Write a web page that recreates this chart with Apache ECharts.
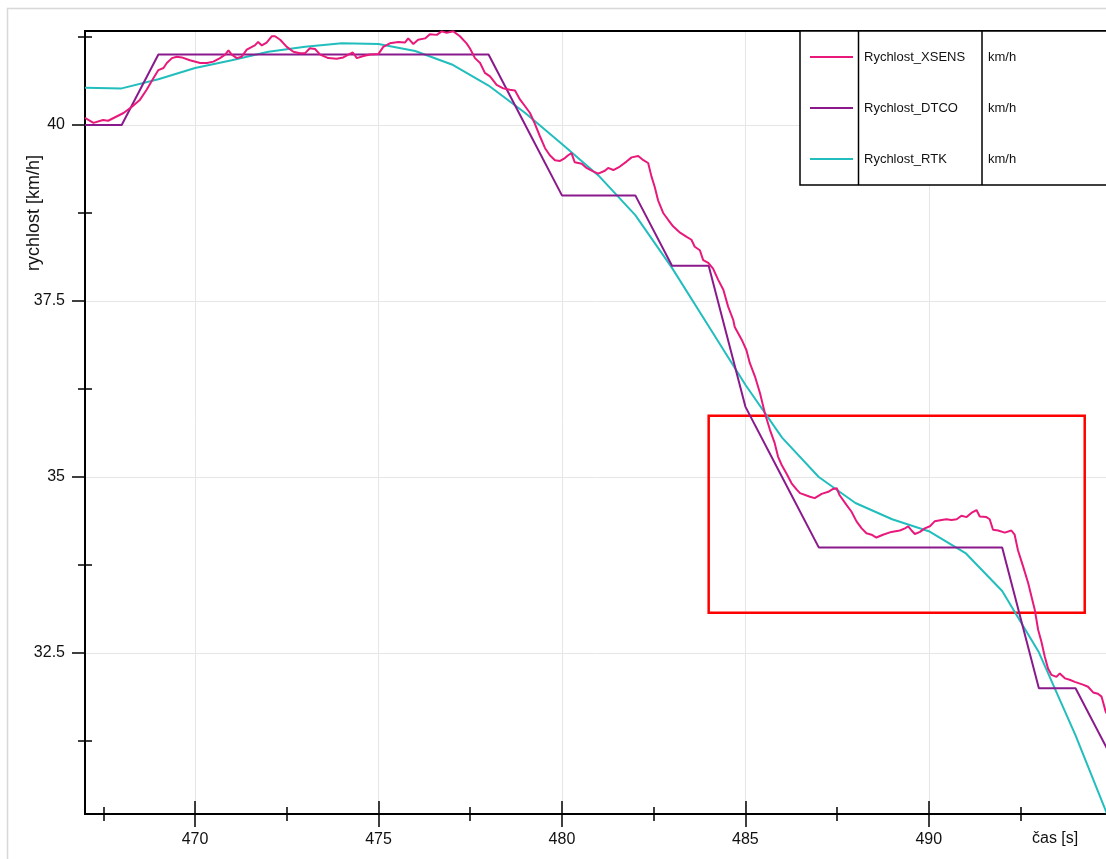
<!DOCTYPE html>
<html><head><meta charset="utf-8">
<script src="https://cdn.jsdelivr.net/npm/echarts@6/dist/echarts.min.js"></script>
<style>html,body{margin:0;padding:0;background:#fff}#c{width:1106px;height:859px}</style>
</head><body><div id="c"></div><script>
// ---- data ----
const xMajorTicks = [470, 475, 480, 485, 490];
const xMinorTicks = [467.5, 472.5, 477.5, 482.5, 487.5, 492.5];
const yMajorTicks = [32.5, 35, 37.5, 40];
const yMinorTicks = [31.25, 33.75, 36.25, 38.75, 41.25];
const xRange = [467.0, 494.83];
const yRange = [30.213, 41.335];

const seriesNames = ['Rychlost_XSENS', 'Rychlost_DTCO', 'Rychlost_RTK'];
const seriesUnits = ['km/h', 'km/h', 'km/h'];

const xsensT = [467.00,467.23,467.49,467.63,467.82,468.05,468.28,468.50,468.68,468.86,469.00,469.14,469.23,469.37,469.50,469.64,469.86,470.14,470.32,470.50,470.68,470.82,470.91,471.00,471.14,471.27,471.41,471.55,471.63,471.72,471.82,471.95,472.09,472.18,472.32,472.50,472.68,472.86,473.00,473.13,473.27,473.41,473.63,473.86,474.04,474.18,474.30,474.41,474.59,474.77,475.00,475.13,475.31,475.54,475.72,475.81,475.95,476.08,476.27,476.40,476.59,476.72,476.86,477.04,477.22,477.40,477.49,477.63,477.77,477.90,478.04,478.22,478.40,478.58,478.72,478.86,478.99,479.13,479.26,479.40,479.54,479.67,479.81,479.95,480.08,480.17,480.26,480.35,480.54,480.67,480.85,480.99,481.17,481.26,481.40,481.58,481.76,481.90,482.08,482.22,482.35,482.44,482.53,482.62,482.76,482.90,483.03,483.22,483.40,483.53,483.62,483.76,483.85,483.99,484.12,484.26,484.40,484.53,484.67,484.71,484.90,485.03,485.12,485.26,485.40,485.53,485.67,485.80,485.89,485.99,486.12,486.26,486.40,486.49,486.76,486.89,487.08,487.26,487.39,487.49,487.57,487.76,487.89,488.03,488.17,488.30,488.44,488.57,488.75,488.98,489.21,489.35,489.44,489.53,489.62,489.76,489.89,490.03,490.16,490.35,490.48,490.62,490.76,490.89,491.03,491.16,491.30,491.39,491.57,491.66,491.75,491.89,492.07,492.25,492.34,492.43,492.57,492.71,492.80,492.89,492.98,493.07,493.16,493.25,493.34,493.48,493.57,493.71,493.84,493.98,494.20,494.34,494.48,494.61,494.71,494.82,495.00];
const xsensV = [40.10,40.03,40.07,40.06,40.11,40.17,40.26,40.36,40.50,40.66,40.78,40.81,40.88,40.95,40.97,40.96,40.92,40.88,40.88,40.90,40.95,41.00,41.06,41.00,40.95,40.97,41.07,41.11,41.13,41.18,41.13,41.17,41.26,41.26,41.21,41.11,41.04,41.02,41.02,41.09,41.08,41.00,40.95,40.94,40.96,41.00,41.03,40.95,40.98,41.00,41.01,41.11,41.16,41.18,41.17,41.23,41.15,41.21,41.23,41.29,41.28,41.33,41.31,41.33,41.26,41.16,41.09,40.95,40.88,40.74,40.69,40.57,40.52,40.50,40.49,40.36,40.27,40.17,40.02,39.84,39.67,39.57,39.50,39.49,39.53,39.57,39.60,39.47,39.45,39.39,39.34,39.31,39.35,39.39,39.36,39.41,39.48,39.54,39.56,39.50,39.46,39.27,39.12,38.93,38.75,38.65,38.56,38.47,38.41,38.37,38.27,38.22,38.08,38.04,37.96,37.80,37.66,37.42,37.23,37.13,36.95,36.80,36.62,36.43,36.19,35.91,35.67,35.48,35.29,35.17,35.05,34.91,34.82,34.77,34.72,34.70,34.76,34.79,34.83,34.84,34.74,34.60,34.51,34.37,34.27,34.20,34.18,34.14,34.18,34.22,34.24,34.27,34.30,34.24,34.19,34.22,34.27,34.30,34.37,34.39,34.40,34.39,34.40,34.45,34.43,34.49,34.53,34.44,34.43,34.40,34.25,34.24,34.21,34.24,34.18,33.96,33.73,33.49,33.30,33.11,32.83,32.66,32.45,32.28,32.19,32.16,32.21,32.14,32.12,32.09,32.05,32.02,31.94,31.92,31.88,31.67,31.50];

const dtcoT = [467,468,469,470,471,472,473,474,475,476,477,478,479,480,481,482,483,484,485,486,487,488,489,490,491,492,493,494,495];
const dtcoV = [40,40,41,41,41,41,41,41,41,41,41,41,40,39,39,39,38,38,36,35,34,34,34,34,34,34,32,32,31];

const rtkT = [467,468,469,470,471,472,473,474,475,476,477,478,479,480,481,482,483,484,485,486,487,488,489,490,491,492,493,494,495];
const rtkV = [40.53,40.52,40.65,40.81,40.92,41.04,41.11,41.16,41.15,41.05,40.86,40.56,40.17,39.73,39.28,38.72,37.97,37.14,36.31,35.56,35.00,34.63,34.40,34.23,33.92,33.38,32.51,31.33,30.03];

const highlightBox = [[484.0, 35.87], [494.25, 33.07]];

const colors = ['#e8197b', '#8a1a8c', '#22bdbd'];

// ---- chart ----
const zip = (a, b) => a.map((v, i) => [v, b[i]]);
const chart = echarts.init(document.getElementById('c'), null, {renderer: 'canvas'});
const FONT = 'Liberation Sans, Arial, sans-serif';
const axisLine = {show: true, lineStyle: {color: '#000', width: 2}};

function xAx(extra) {
  return Object.assign({
    type: 'value', min: xRange[0], max: xRange[1], position: 'bottom',
    axisLine: axisLine, axisLabel: {show: false}, splitLine: {show: false},
    axisTick: {show: false}
  }, extra);
}
function yAx(extra) {
  return Object.assign({
    type: 'value', min: yRange[0], max: yRange[1], position: 'left',
    axisLine: axisLine, axisLabel: {show: false}, splitLine: {show: false},
    axisTick: {show: false}
  }, extra);
}
const tickStyle = {color: '#000', width: 1.5};

const option = {
  backgroundColor: '#fff',
  animation: false,
  grid: {left: 85, right: 0, top: 31, bottom: 45, containLabel: false},
  xAxis: [
    xAx({
      axisTick: {show: true, inside: false, length: 13, lineStyle: tickStyle, customValues: xMajorTicks},
      axisLabel: {show: true, customValues: xMajorTicks, color: '#111', fontSize: 16, fontFamily: FONT, margin: 18},
      splitLine: {show: true, lineStyle: {color: '#e6e6e6', width: 1}}
    }),
    xAx({axisTick: {show: true, inside: true, length: 13, lineStyle: tickStyle, customValues: xMajorTicks}}),
    xAx({axisTick: {show: true, inside: false, length: 7, lineStyle: tickStyle, customValues: xMinorTicks}}),
    xAx({axisTick: {show: true, inside: true, length: 7, lineStyle: tickStyle, customValues: xMinorTicks}}),
    xAx({position: 'top'})
  ],
  yAxis: [
    yAx({
      axisTick: {show: true, inside: false, length: 13, lineStyle: tickStyle, customValues: yMajorTicks},
      axisLabel: {show: true, customValues: yMajorTicks, color: '#111', fontSize: 16, fontFamily: FONT, margin: 20},
      splitLine: {show: true, lineStyle: {color: '#e6e6e6', width: 1}}
    }),
    yAx({axisTick: {show: true, inside: false, length: 7, lineStyle: tickStyle, customValues: yMinorTicks}}),
    yAx({axisTick: {show: true, inside: true, length: 7, lineStyle: tickStyle, customValues: yMinorTicks}})
  ],
  series: [
    {
      name: seriesNames[2], type: 'line', data: zip(rtkT, rtkV), showSymbol: false, symbol: 'none',
      lineStyle: {color: colors[2], width: 2}, itemStyle: {color: colors[2]}, z: 2
    },
    {
      name: seriesNames[1], type: 'line', data: zip(dtcoT, dtcoV), showSymbol: false, symbol: 'none',
      lineStyle: {color: colors[1], width: 2}, itemStyle: {color: colors[1]}, z: 3
    },
    {
      name: seriesNames[0], type: 'line', data: zip(xsensT, xsensV), showSymbol: false, symbol: 'none',
      lineStyle: {color: colors[0], width: 2}, itemStyle: {color: colors[0]}, z: 4,
      markArea: {
        silent: true,
        itemStyle: {color: 'rgba(0,0,0,0)', borderColor: '#ff0000', borderWidth: 2.5},
        data: [[{xAxis: highlightBox[0][0], yAxis: highlightBox[0][1]}, {xAxis: highlightBox[1][0], yAxis: highlightBox[1][1]}]]
      }
    }
  ],
  graphic: [
    {type: 'rect', shape: {x: 7.5, y: 8.5, width: 1300, height: 1000}, style: {fill: 'none', stroke: '#d8d8d8', lineWidth: 1.5}, z: -10, silent: true},
    {type: 'text', x: 34, y: 213, rotation: Math.PI / 2, style: {text: 'rychlost [km/h]', fontSize: 18, fontFamily: FONT, fill: '#111', textAlign: 'center', textVerticalAlign: 'middle'}},
    {type: 'text', x: 1032, y: 839, style: {text: 'čas [s]', fontSize: 16, fontFamily: FONT, fill: '#111', textAlign: 'left', textVerticalAlign: 'middle'}},
    // legend table
    {type: 'rect', shape: {x: 800, y: 31, width: 400, height: 154}, style: {fill: '#fff', stroke: '#000', lineWidth: 1.5}, z: 50},
    {type: 'line', shape: {x1: 858.5, y1: 31, x2: 858.5, y2: 185}, style: {stroke: '#000', lineWidth: 1.5}, z: 51},
    {type: 'line', shape: {x1: 982, y1: 31, x2: 982, y2: 185}, style: {stroke: '#000', lineWidth: 1.5}, z: 51}
  ].concat(seriesNames.flatMap((n, i) => {
    const y = 57 + i * 51;
    return [
      {type: 'line', shape: {x1: 810, y1: y, x2: 853, y2: y}, style: {stroke: colors[i], lineWidth: 2}, z: 52},
      {type: 'text', x: 864, y: y, style: {text: n, fontSize: 13, fontFamily: FONT, fill: '#111', textVerticalAlign: 'middle'}, z: 52},
      {type: 'text', x: 988, y: y, style: {text: seriesUnits[i], fontSize: 13, fontFamily: FONT, fill: '#111', textVerticalAlign: 'middle'}, z: 52}
    ];
  }))
};
chart.setOption(option);
</script></body></html>
